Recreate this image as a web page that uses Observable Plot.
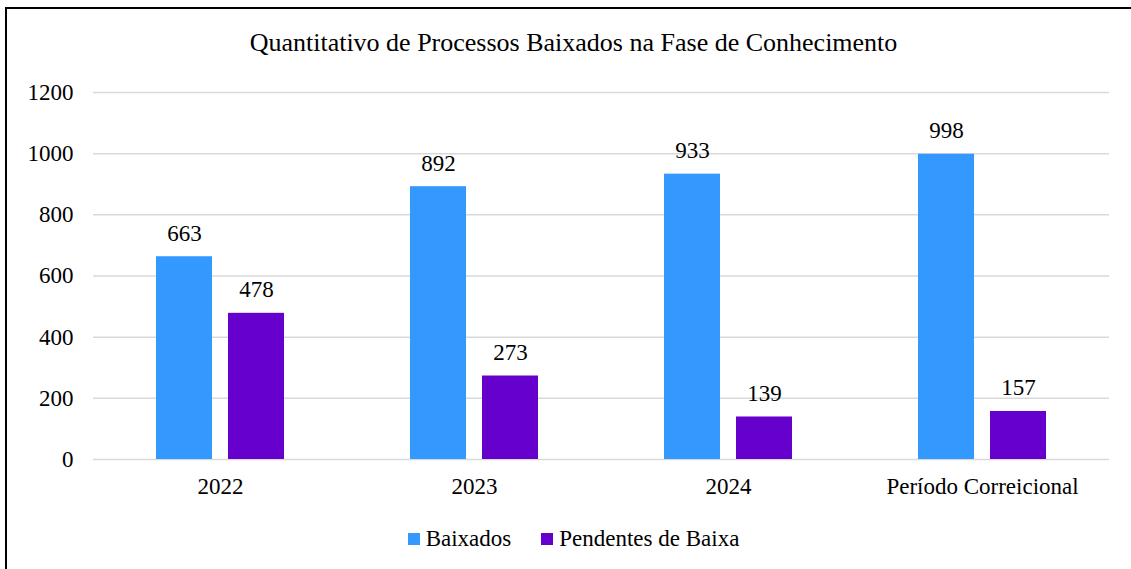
<!DOCTYPE html>
<html>
<head>
<meta charset="utf-8">
<script src="https://cdn.jsdelivr.net/npm/d3@7"></script>
<script src="https://cdn.jsdelivr.net/npm/@observablehq/plot@0.6"></script>
<style>
  html, body { margin: 0; padding: 0; background: #fff; }
  body { width: 1131px; height: 569px; overflow: hidden; position: relative; color: #000; }
  #frame { position: absolute; left: 5px; top: 7px; width: 2000px; height: 2000px; border-left: 2px solid #000; border-top: 2px solid #000; pointer-events: none; }
  #title { height: 70px; box-sizing: border-box; padding-top: 30px; padding-left: 16px; text-align: center; font-size: 26px; line-height: 26px; white-space: nowrap; }
  #chart { height: 439px; }
  #legend { height: 60px; box-sizing: border-box; padding-top: 17px; padding-left: 16px; display: flex; justify-content: center; align-items: flex-start; font-size: 23px; line-height: 26px; gap: 30px; }
  .item { display: flex; align-items: flex-start; gap: 6px; }
  .sw { width: 12px; height: 12px; display: inline-block; margin-top: 7px; }
</style>
</head>
<body>
<div id="frame"></div>
<div id="title">Quantitativo de Processos Baixados na Fase de Conhecimento</div>
<div id="chart"></div>
<div id="legend"></div>
<script>
const categories = ["2022", "2023", "2024", "Período Correicional"];
const series = ["Baixados", "Pendentes de Baixa"];
const baixados = [663, 892, 933, 998];
const pendentes = [478, 273, 139, 157];
const yTicks = [0, 200, 400, 600, 800, 1000, 1200];
const colors = ["#3399FF", "#6600CC"];

const FONT = "'Liberation Serif', 'Times New Roman', Times, serif";
document.body.style.fontFamily = FONT;

const data = categories.flatMap((c, i) => [
  {cat: c, serie: series[0], value: baixados[i]},
  {cat: c, serie: series[1], value: pendentes[i]}
]);

const chart = Plot.plot({
  width: 1131,
  height: 439,
  marginLeft: 92,
  marginRight: 21,
  marginTop: 22,
  marginBottom: 50,
  style: {fontSize: "23px", color: "#000", background: "transparent"},
  fx: {domain: categories, padding: 0, label: null},
  x: {domain: series, axis: null, paddingInner: 0.219, paddingOuter: 0.853},
  y: {domain: [0, 1200], label: null},
  color: {domain: series, range: colors},
  marks: [
    Plot.ruleY(yTicks, {stroke: "#D9D9D9", strokeWidth: 1.5}),
    Plot.axisY({ticks: yTicks, tickFormat: d => String(d), tickSize: 0, tickPadding: 20, label: null, fill: "#000"}),
    Plot.axisFx({anchor: "bottom", tickSize: 0, tickPadding: 18, label: null, fill: "#000"}),
    Plot.barY(data, {fx: "cat", x: "serie", y: "value", fill: "serie"}),
    Plot.text(data, {fx: "cat", x: "serie", y: "value", text: d => String(d.value), dy: -16, lineAnchor: "bottom", fill: "#000", fontSize: 23})
  ]
});
chart.style.fontFamily = FONT;
chart.setAttribute("font-family", FONT);
document.getElementById("chart").appendChild(chart);

const legend = document.getElementById("legend");
series.forEach((s, i) => {
  const item = document.createElement("div");
  item.className = "item";
  const sw = document.createElement("span");
  sw.className = "sw";
  sw.style.background = colors[i];
  const lab = document.createElement("span");
  lab.textContent = s;
  item.appendChild(sw);
  item.appendChild(lab);
  legend.appendChild(item);
});
</script>
</body>
</html>
